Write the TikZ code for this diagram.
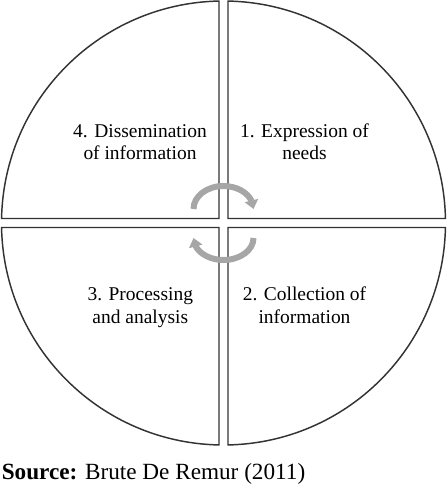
\documentclass[tikz,border=0pt]{standalone}
\usepackage{fontspec}
\setmainfont{Liberation Serif}
\usepackage{tikz}
\usetikzlibrary{arrows.meta}
\usetikzlibrary{bending}

\begin{document}
\begin{tikzpicture}[x=0.75pt,y=0.75pt,
        quad/.style={draw=black!80,line width=1.1pt},
        cycarrow/.style={draw=black!35,line width=4.5pt,-{Triangle[width=10pt,length=6.5pt,flex]}},
        stagetext/.style={align=center,anchor=base,inner sep=0pt,font=\fontsize{14.6}{16.8}\selectfont}]
        \useasboundingbox (0,0) rectangle (447,487);
        \coordinate (c) at (223.5,264);
        \pgfmathsetmacro{\ang}{asin(4.5/222)}
        \foreach \q in {0,90,180,270}
            \draw[quad,shift={(c)},rotate=\q] (4.5,4.5) -- (90-\ang:222) arc[start angle=90-\ang,end angle=\ang,radius=222] -- cycle;

        \draw[cycarrow] (193.5,278) arc[start angle=180,end angle=0,x radius=30,y radius=23];
        \draw[cycarrow] (253.5,249) arc[start angle=0,end angle=-180,x radius=30,y radius=22];

        % base anchor sits on the last line
        \node[stagetext] (dissem) at (140,327) {4. Dissemination\\of information};
        \node[stagetext] (needs) at (304.5,327) {1. Expression of\\needs};
        \node[stagetext] (process) at (140.3,163.7) {3. Processing\\and analysis};
        \node[stagetext] (collect) at (304.5,163.7) {2. Collection of\\information};
        \node[anchor=base west,inner sep=0pt,font=\fontsize{17.4}{20}\selectfont] (source) at (1.5,7.7) {\textbf{Source:} Brute De Remur (2011)};
    \end{tikzpicture}
\end{document}
